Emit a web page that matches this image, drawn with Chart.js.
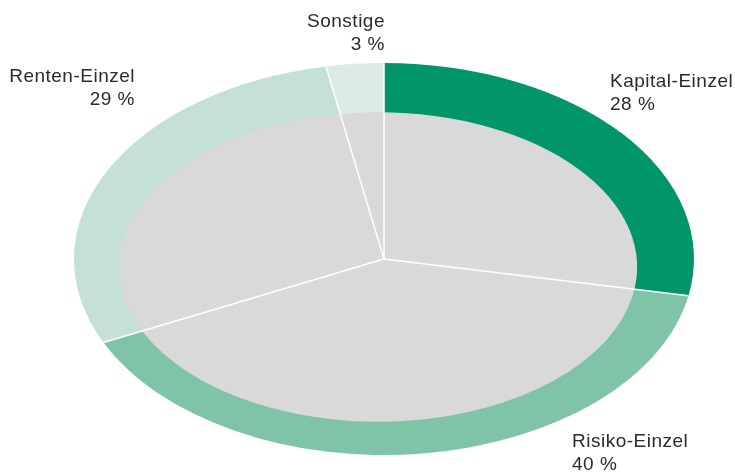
<!DOCTYPE html>
<html lang="de">
<head>
    <meta charset="UTF-8">
    <title>Neugeschäft nach Produktgruppen</title>
    <script src="https://cdn.jsdelivr.net/npm/chart.js@4/dist/chart.umd.min.js"></script>
    <style>
        body { margin: 0; background: #fff; }
        #wrap { width: 735px; height: 473px; }
    </style>
</head>
<body>
    <div id="wrap"><canvas id="pie" width="735" height="473"></canvas></div>

    <script>
        // Data
        const categories = ['Kapital-Einzel', 'Risiko-Einzel', 'Renten-Einzel', 'Sonstige'];
        const shares = [28, 40, 29, 3];
        const sliceColors = ['#009669', '#80c4a8', '#c5e0d5', '#dbece4'];

        // Ellipses: coloured rim and the grey face lying on it
        const rim = { x: 384, y: 259, rx: 310, ry: 196 };
        const face = { x: 378, y: 267, rx: 258, ry: 154 };

        // Label anchors (x, first baseline, alignment)
        const labelPos = [
            { x: 610, y: 87, align: 'left' },
            { x: 572, y: 447, align: 'left' },
            { x: 135, y: 82, align: 'right' },
            { x: 385, y: 27, align: 'right' }
        ];

        function squash(ctx, arc, target) {
            const s = target.rx / arc.outerRadius;
            const t = target.ry / arc.outerRadius;
            ctx.translate(target.x, target.y);
            ctx.scale(s, t);
            ctx.translate(-arc.x, -arc.y);
        }

        // Stretch each dataset into its ellipse
        const ellipsePlugin = {
            id: 'ellipse',
            beforeDatasetDraw(chart, args) {
                const arc = args.meta.data[0];
                chart.ctx.save();
                squash(chart.ctx, arc, args.index === 0 ? rim : face);
            },
            afterDatasetDraw(chart) {
                chart.ctx.restore();
            }
        };

        // White dividers from the centre to the rim, along each slice start
        const dividerPlugin = {
            id: 'dividers',
            afterDatasetsDraw(chart) {
                const ctx = chart.ctx;
                const arcs = chart.getDatasetMeta(0).data;
                ctx.save();
                ctx.beginPath();
                ctx.save();
                squash(ctx, arcs[0], rim);
                arcs.forEach(a => {
                    ctx.moveTo(a.x, a.y);
                    ctx.lineTo(a.x + a.outerRadius * Math.cos(a.startAngle),
                               a.y + a.outerRadius * Math.sin(a.startAngle));
                });
                ctx.restore();
                ctx.strokeStyle = '#ffffff';
                ctx.lineWidth = 1.5;
                ctx.stroke();
                ctx.restore();
            }
        };

        const labelPlugin = {
            id: 'sliceLabels',
            afterDraw(chart) {
                const ctx = chart.ctx;
                ctx.save();
                ctx.font = '19px "Liberation Sans", Arial, sans-serif';
                ctx.letterSpacing = '0.5px';
                ctx.fillStyle = '#2b2b2b';
                ctx.textBaseline = 'alphabetic';
                categories.forEach((name, i) => {
                    const p = labelPos[i];
                    ctx.textAlign = p.align;
                    ctx.fillText(name, p.x, p.y);
                    ctx.fillText(shares[i] + ' %', p.x, p.y + 23);
                });
                ctx.restore();
            }
        };

        new Chart(document.getElementById('pie'), {
            type: 'pie',
            data: {
                labels: categories,
                datasets: [{
                    data: shares,
                    backgroundColor: sliceColors,
                    borderWidth: 0,
                    order: 1
                }, {
                    data: shares,
                    backgroundColor: '#d9d9d9',
                    borderColor: '#d9d9d9',
                    borderWidth: 1,
                    order: 0
                }]
            },
            options: {
                responsive: false,
                animation: false,
                plugins: {
                    legend: { display: false },
                    tooltip: { enabled: false }
                }
            },
            plugins: [ellipsePlugin, dividerPlugin, labelPlugin]
        });
    </script>
</body>
</html>
